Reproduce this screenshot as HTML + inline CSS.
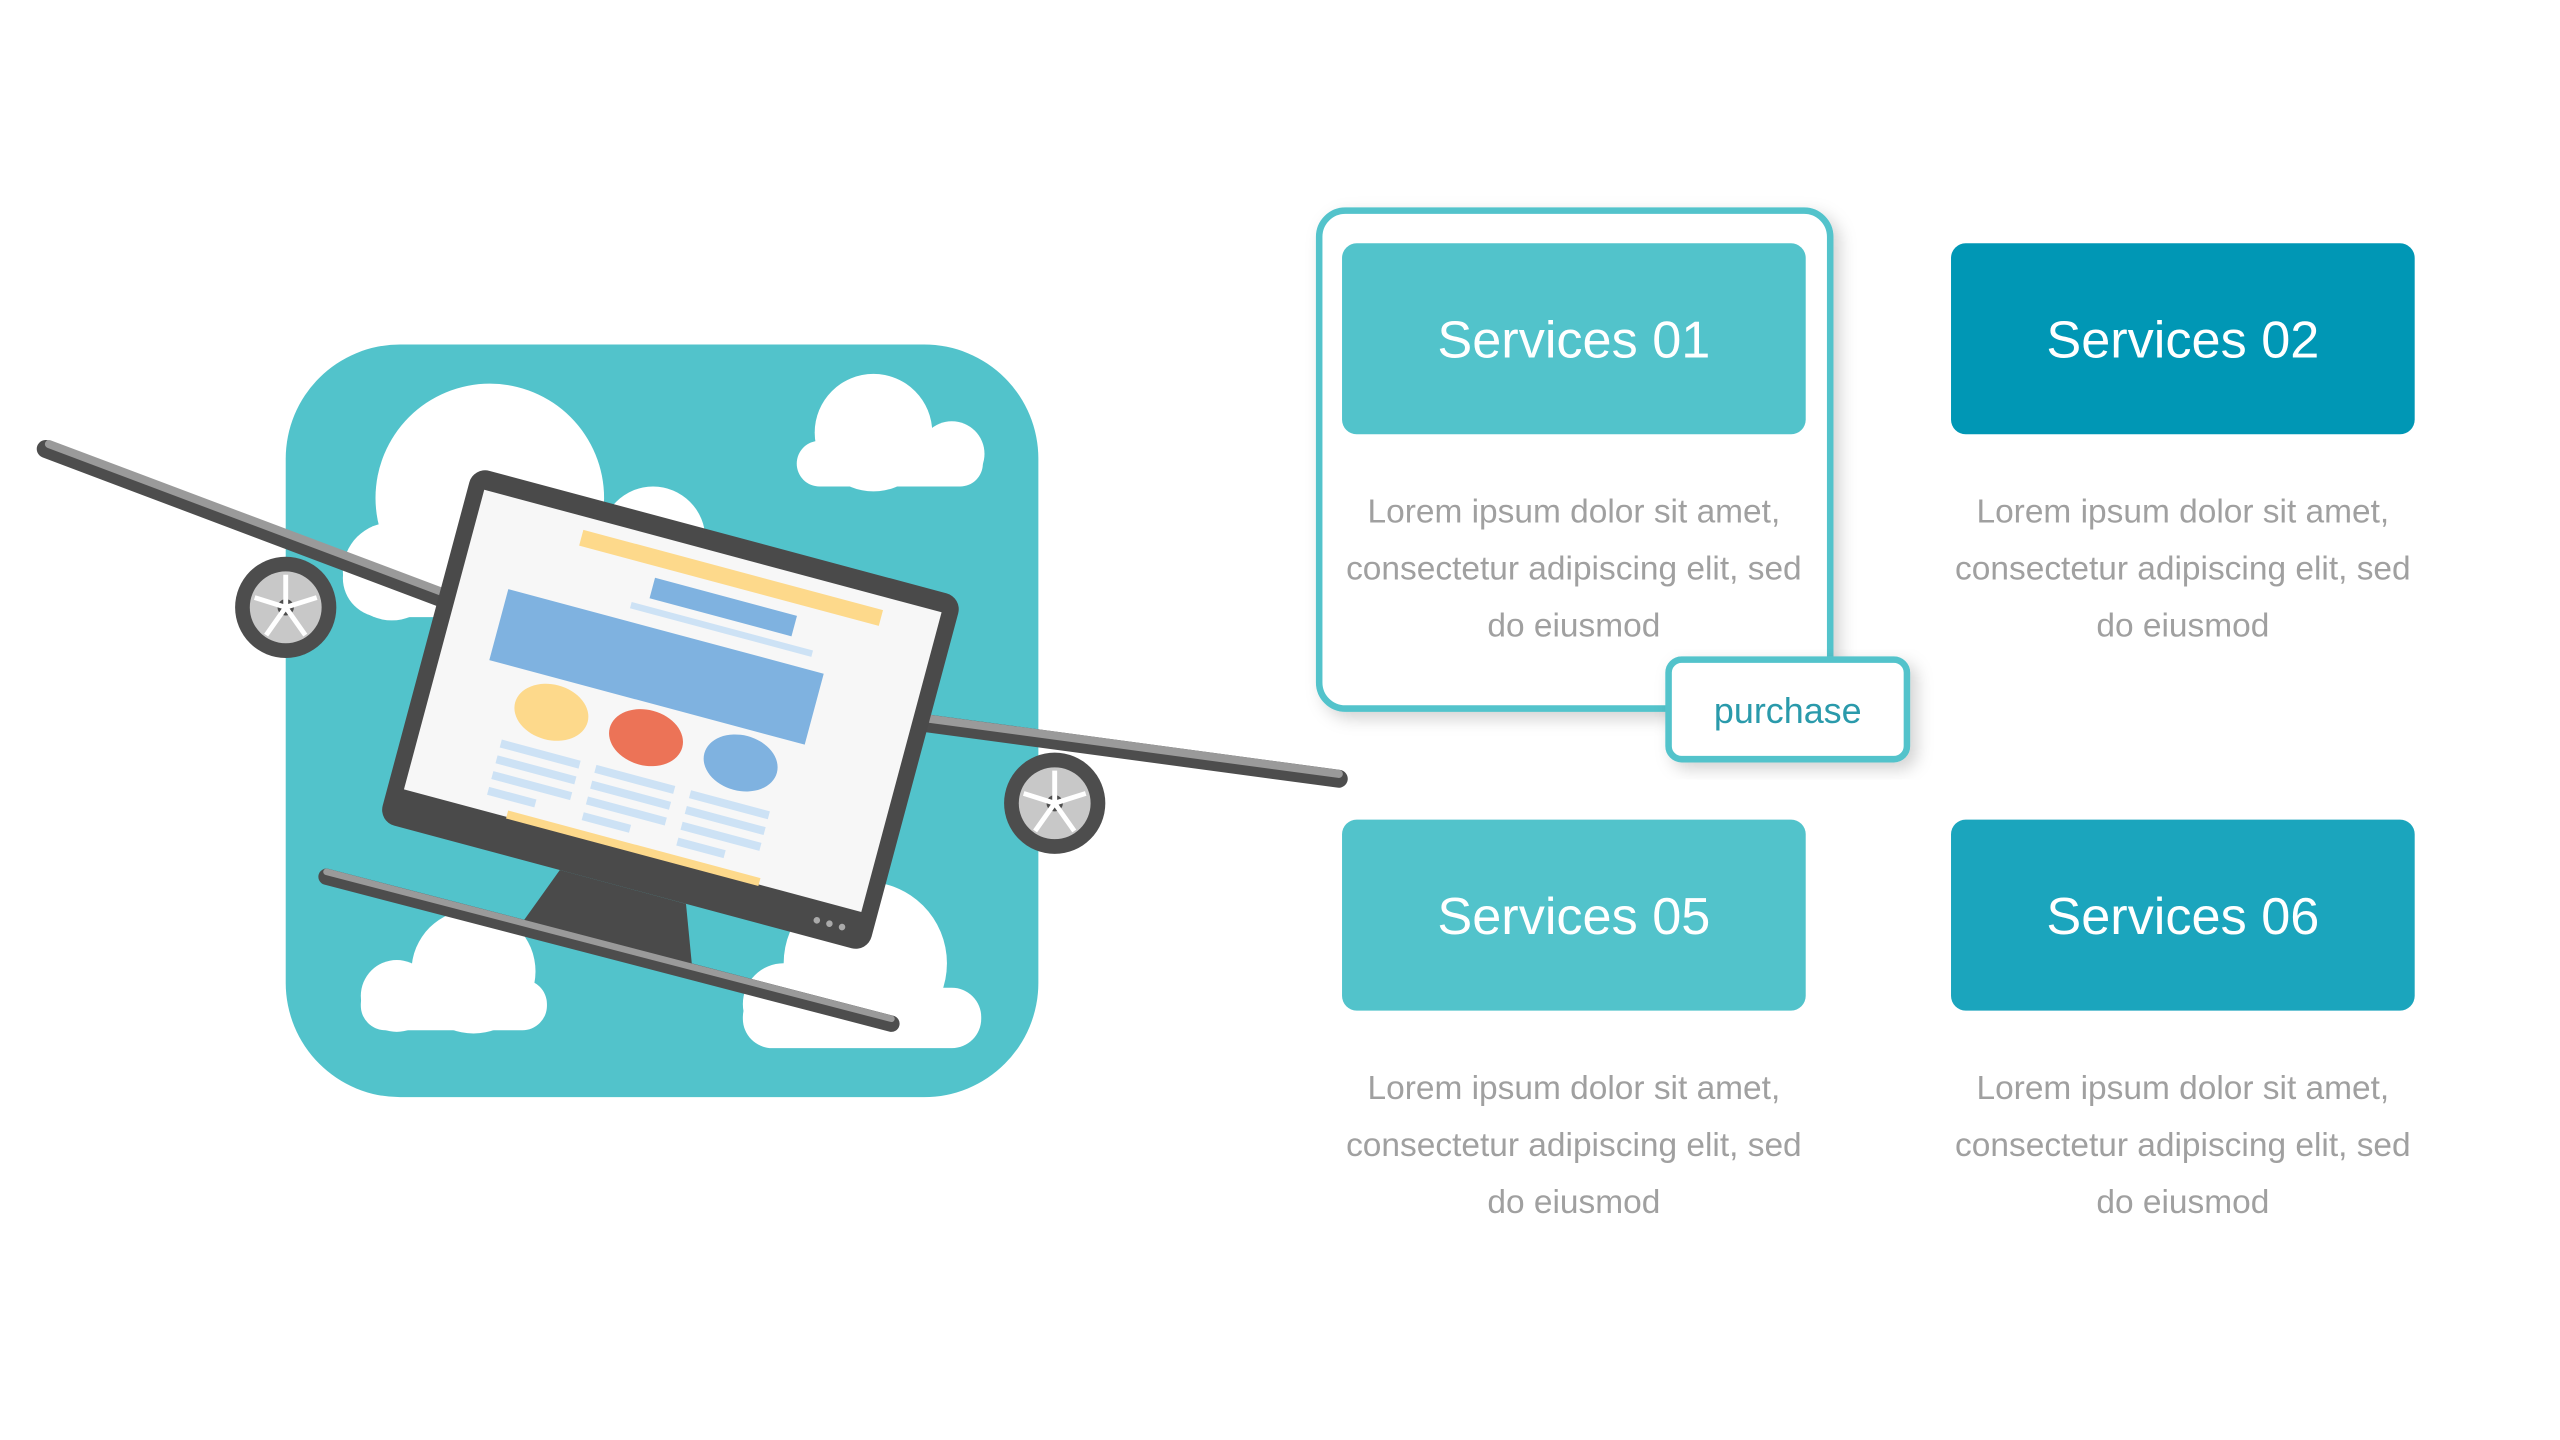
<!DOCTYPE html>
<html><head><meta charset="utf-8"><style>
html,body{margin:0;padding:0;background:#fff;width:2560px;height:1440px;overflow:hidden}
svg{display:block}
</style></head><body>
<svg width="2560" height="1440" viewBox="0 0 1568 882" xmlns="http://www.w3.org/2000/svg" font-family="Liberation Sans, sans-serif">
<defs>
<filter id="sh" x="-10%" y="-10%" width="130%" height="130%"><feDropShadow dx="4" dy="4" stdDeviation="5" flood-color="#000" flood-opacity="0.18"/></filter>
</defs>
<rect x="175" y="211" width="461" height="461" rx="70" fill="#52c3cb"/>
<g fill="#fff">
<circle cx="300" cy="305" r="70"/>
<circle cx="240" cy="350" r="30"/>
<circle cx="400" cy="330" r="32"/>
<rect x="210" y="330" width="220" height="48" rx="24"/>
<circle cx="535" cy="265" r="36"/>
<circle cx="583" cy="278" r="20"/>
<rect x="488" y="270" width="114" height="28" rx="14"/>
<circle cx="290" cy="595" r="38"/>
<circle cx="243" cy="610" r="22"/>
<rect x="221" y="600" width="114" height="31" rx="15"/>
<circle cx="530" cy="590" r="50"/>
<circle cx="480" cy="615" r="25"/>
<rect x="455" y="605" width="146" height="37" rx="18"/>
</g>
<line x1="28" y1="275" x2="280" y2="370" stroke="#4d4d4d" stroke-width="11" stroke-linecap="round"/>
<line x1="30" y1="272" x2="280" y2="366" stroke="#9a9a9a" stroke-width="5" stroke-linecap="round"/>
<line x1="560" y1="442" x2="820" y2="477" stroke="#4d4d4d" stroke-width="11" stroke-linecap="round"/>
<line x1="560" y1="439" x2="820" y2="474" stroke="#9a9a9a" stroke-width="5" stroke-linecap="round"/>
<g>
<circle cx="175" cy="372" r="31" fill="#4d4d4d"/><circle cx="175" cy="372" r="22" fill="#c8c8c8"/>
<circle cx="175" cy="372" r="5" fill="#4d4d4d"/>
<path d="M175 372 L175 352 M175 372 L194 366 M175 372 L187 389 M175 372 L163 389 M175 372 L156 366" stroke="#fff" stroke-width="3"/>
<circle cx="646" cy="492" r="31" fill="#4d4d4d"/><circle cx="646" cy="492" r="22" fill="#c8c8c8"/>
<circle cx="646" cy="492" r="5" fill="#4d4d4d"/>
<path d="M646 492 L646 472 M646 492 L665 486 M646 492 L658 509 M646 492 L634 509 M646 492 L627 486" stroke="#fff" stroke-width="3"/>
</g>
<g transform="translate(410,437) rotate(15)">
<path d="M-40 110 L40 110 L55 150 L-55 150 Z" fill="#4a4a4a"/>
<rect x="-155" y="-115" width="310" height="225" rx="10" fill="#4a4a4a"/>
<rect x="-145" y="-103" width="290" height="190" fill="#f7f7f7"/>
<rect x="-80" y="-95" width="190" height="10" fill="#fdd98b"/>
<rect x="-30" y="-78" width="90" height="13" fill="#7fb2e0"/>
<rect x="-40" y="-60" width="115" height="4" fill="#cde2f5"/>
<rect x="-115" y="-48" width="200" height="45" fill="#7fb2e0"/>
<ellipse cx="-70" cy="18" rx="23" ry="17" fill="#fdd98b"/>
<ellipse cx="-10" cy="18" rx="23" ry="17" fill="#ec7357"/>
<ellipse cx="50" cy="18" rx="23" ry="17" fill="#7fb2e0"/>
<g fill="#cde2f5">
<rect x="-95" y="42" width="50" height="5"/><rect x="-95" y="52" width="50" height="5"/><rect x="-95" y="62" width="50" height="5"/><rect x="-95" y="72" width="30" height="5"/>
<rect x="-35" y="42" width="50" height="5"/><rect x="-35" y="52" width="50" height="5"/><rect x="-35" y="62" width="50" height="5"/><rect x="-35" y="72" width="30" height="5"/>
<rect x="25" y="42" width="50" height="5"/><rect x="25" y="52" width="50" height="5"/><rect x="25" y="62" width="50" height="5"/><rect x="25" y="72" width="30" height="5"/>
</g>
<rect x="-80" y="83" width="160" height="5" fill="#fdd98b"/>
<circle cx="120" cy="99" r="2" fill="#aaa"/><circle cx="128" cy="99" r="2" fill="#aaa"/><circle cx="136" cy="99" r="2" fill="#aaa"/>
</g>
<line x1="200" y1="537" x2="546" y2="627" stroke="#4d4d4d" stroke-width="10" stroke-linecap="round"/>
<line x1="200" y1="534" x2="546" y2="624" stroke="#9a9a9a" stroke-width="4" stroke-linecap="round"/>

<rect x="808" y="129" width="313" height="305" rx="16" fill="#fff" stroke="#52c3cb" stroke-width="4" filter="url(#sh)"/>
<rect x="822" y="149" width="284" height="117" rx="9" fill="#52c3cb"/>
<rect x="822" y="502" width="284" height="117" rx="9" fill="#52c3cb"/>
<rect x="1195" y="149" width="284" height="117" rx="9" fill="#0097b5"/>
<rect x="1195" y="502" width="284" height="117" rx="9" fill="#1ba5bd"/>
<g fill="#fff" font-size="32" text-anchor="middle">
<text x="964" y="219">Services 01</text>
<text x="1337" y="219">Services 02</text>
<text x="964" y="572">Services 05</text>
<text x="1337" y="572">Services 06</text>
</g>
<g fill="#a0a0a0" font-size="20.5" text-anchor="middle">
<text x="964" y="320">Lorem ipsum dolor sit amet,</text>
<text x="964" y="355">consectetur adipiscing elit, sed</text>
<text x="964" y="390">do eiusmod</text>
<text x="1337" y="320">Lorem ipsum dolor sit amet,</text>
<text x="1337" y="355">consectetur adipiscing elit, sed</text>
<text x="1337" y="390">do eiusmod</text>
<text x="964" y="673">Lorem ipsum dolor sit amet,</text>
<text x="964" y="708">consectetur adipiscing elit, sed</text>
<text x="964" y="743">do eiusmod</text>
<text x="1337" y="673">Lorem ipsum dolor sit amet,</text>
<text x="1337" y="708">consectetur adipiscing elit, sed</text>
<text x="1337" y="743">do eiusmod</text>
</g>
<rect x="1022" y="404" width="146" height="61" rx="8" fill="#fff" stroke="#52c3cb" stroke-width="4" filter="url(#sh)"/>
<text x="1095" y="443" fill="#2a9aab" font-size="22" text-anchor="middle">purchase</text>
</svg>
</body></html>
